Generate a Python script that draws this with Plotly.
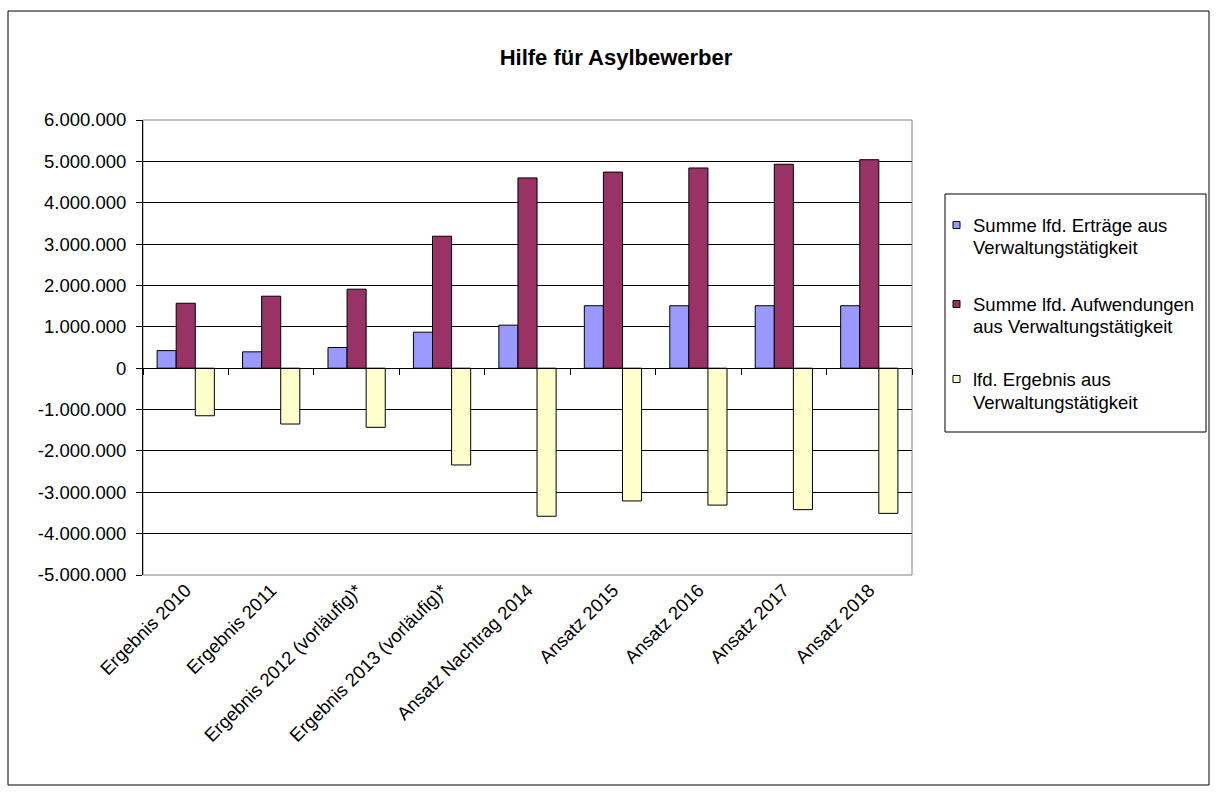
import plotly.graph_objects as go

categories = ["Ergebnis 2010", "Ergebnis 2011", "Ergebnis 2012 (vorläufig)*",
              "Ergebnis 2013 (vorläufig)*", "Ansatz Nachtrag 2014", "Ansatz 2015",
              "Ansatz 2016", "Ansatz 2017", "Ansatz 2018"]
ertraege = [425000, 395000, 500000, 870000, 1040000, 1510000, 1510000, 1510000, 1510000]
aufwendungen = [1570000, 1740000, 1910000, 3190000, 4600000, 4740000, 4840000, 4930000, 5040000]
ergebnis = [-1150000, -1350000, -1430000, -2340000, -3580000, -3210000, -3310000, -3420000, -3510000]
series_names = ["Summe lfd. Erträge aus Verwaltungstätigkeit",
                "Summe lfd. Aufwendungen aus Verwaltungstätigkeit",
                "lfd. Ergebnis aus Verwaltungstätigkeit"]
legend_lines = [["Summe lfd. Erträge aus", "Verwaltungstätigkeit"],
                ["Summe lfd. Aufwendungen", "aus Verwaltungstätigkeit"],
                ["lfd. Ergebnis aus", "Verwaltungstätigkeit"]]
colors = ["#9999FF", "#993366", "#FFFFCC"]
y_ticks = list(range(-5000000, 6000001, 1000000))
y_ticktext = [f"{v:,}".replace(",", ".") for v in y_ticks]

W, H = 1216, 792
L, R, T, B = 143, 912, 120, 575
FONT = "Liberation Sans, Arial, sans-serif"
FS = 18.5


def px_x(p):
    return (p - L) / (R - L)


def px_y(p):
    return (B - p) / (B - T)


fig = go.Figure()
for name, vals, col in zip(series_names, [ertraege, aufwendungen, ergebnis], colors):
    fig.add_trace(go.Bar(x=categories, y=vals, name=name, showlegend=False,
                         marker=dict(color=col, line=dict(color="black", width=1))))

# helper trace so the overlay category axis at y=0 is drawn
fig.add_trace(go.Scatter(x=categories, y=[0] * len(categories), xaxis="x2",
                         mode="markers", marker=dict(opacity=0), showlegend=False,
                         hoverinfo="skip"))

shapes = [
    dict(type="rect", xref="paper", yref="paper", x0=0, x1=1, y0=0, y1=1,
         line=dict(color="#808080", width=1), fillcolor="rgba(0,0,0,0)", layer="below"),
    dict(type="rect", xref="paper", yref="paper",
         x0=px_x(8), x1=px_x(1209), y0=px_y(785), y1=px_y(11),
         line=dict(color="black", width=1), fillcolor="rgba(0,0,0,0)"),
]
annotations = []

# manual legend
LB_L, LB_R, LB_T, LB_B = 945, 1206, 194, 432
shapes.append(dict(type="rect", xref="paper", yref="paper",
                   x0=px_x(LB_L), x1=px_x(LB_R), y0=px_y(LB_B), y1=px_y(LB_T),
                   line=dict(color="black", width=1), fillcolor="white"))
line_centers = [(225, 247), (304, 326), (379, 402)]
for lines, col, (c1, c2) in zip(legend_lines, colors, line_centers):
    shapes.append(dict(type="rect", xref="paper", yref="paper",
                       x0=px_x(LB_L + 8), x1=px_x(LB_L + 15),
                       y0=px_y(c1 + 3.5), y1=px_y(c1 - 3.5),
                       line=dict(color="black", width=1), fillcolor=col))
    for txt, cy in zip(lines, (c1, c2)):
        annotations.append(dict(text=txt, xref="paper", yref="paper",
                                x=px_x(LB_L + 27), y=px_y(cy), xanchor="left",
                                yanchor="middle", showarrow=False, borderpad=0,
                                font=dict(family=FONT, size=FS, color="black")))

fig.update_layout(
    width=W, height=H,
    margin=dict(l=L, r=W - R, t=T, b=H - B),
    paper_bgcolor="white", plot_bgcolor="white",
    barmode="group", bargap=0.33, bargroupgap=0,
    font=dict(family=FONT, size=FS, color="black"),
    showlegend=False,
    title=dict(text="<b>Hilfe für Asylbewerber</b>", x=616 / W, xanchor="center",
               y=1 - 57 / H, yanchor="middle", yref="container",
               font=dict(family=FONT, size=22, color="black")),
    xaxis=dict(type="category", tickangle=-45, showgrid=False, showline=False,
               ticks="", tickfont=dict(size=FS)),
    xaxis2=dict(type="category", matches="x", overlaying="x", anchor="free",
                position=5 / 11, showticklabels=False, ticks="outside",
                tickson="boundaries", ticklen=6, tickcolor="black",
                showline=True, linecolor="black", linewidth=1, showgrid=False),
    yaxis=dict(range=[-5000000, 6000000], tickvals=y_ticks, ticktext=y_ticktext,
               showgrid=True, gridcolor="black", gridwidth=1,
               zeroline=True, zerolinecolor="black", zerolinewidth=1,
               showline=True, linecolor="black", linewidth=1,
               ticks="outside", ticklen=6, tickcolor="black",
               ticklabelstandoff=6, tickfont=dict(size=FS)),
    shapes=shapes,
    annotations=annotations,
)

fig.write_html("out.html")
